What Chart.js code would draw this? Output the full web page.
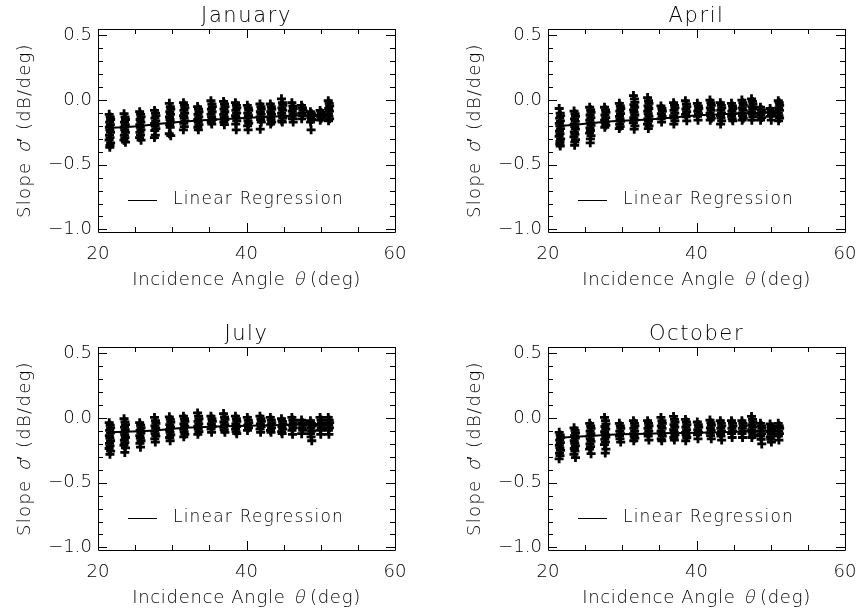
<!DOCTYPE html>
<html>
<head>
<meta charset="utf-8">
<script src="https://cdn.jsdelivr.net/npm/chart.js@4.4.1/dist/chart.umd.min.js"></script>
<style>
  html, body { margin: 0; padding: 0; background: #fff; overflow: hidden; }
  #wrap { position: relative; width: 858px; height: 609px; overflow: hidden; background: #fff; }
  #wrap canvas { position: absolute; }
</style>
</head>
<body>
<div id="wrap">
  <canvas id="p0" width="450" height="318" style="left:0px;top:0px"></canvas>
  <canvas id="p1" width="450" height="318" style="left:450px;top:0px"></canvas>
  <canvas id="p2" width="450" height="318" style="left:0px;top:318px"></canvas>
  <canvas id="p3" width="450" height="318" style="left:450px;top:318px"></canvas>
</div>
<script>
// Incidence angle of each beam node (deg)
const angles = [21.6, 23.6, 25.7, 27.7, 29.7, 31.6, 33.5, 35.3, 37.0, 38.6,
                40.2, 41.9, 43.3, 44.8, 46.2, 47.5, 48.7, 50.0, 51.1];
// spread of the actual incidence angle of samples around each node (deg)
const angleSpread = [-0.09, 0.04, 0.1, -0.03, 0.07, -0.07, 0.0, 0.09, -0.05, 0.02, -0.1, 0.1, 0.01, -0.01, 0.05];

const months = ['January', 'April', 'July', 'October'];

// Slope of sigma0 (dB/deg) samples per node
const janSlope = [
  [-0.11,-0.13,-0.15,-0.17,-0.19,-0.21,-0.23,-0.25,-0.27,-0.29,-0.31,-0.33,-0.35,-0.365],
  [-0.105,-0.13,-0.15,-0.17,-0.19,-0.21,-0.23,-0.25,-0.27,-0.29,-0.31,-0.325],
  [-0.09,-0.11,-0.13,-0.15,-0.17,-0.19,-0.21,-0.23,-0.25,-0.27,-0.29,-0.31],
  [-0.08,-0.10,-0.12,-0.14,-0.16,-0.18,-0.20,-0.22,-0.235,-0.27,-0.29],
  [-0.025,-0.05,-0.07,-0.09,-0.11,-0.13,-0.15,-0.17,-0.19,-0.21,-0.26,-0.275],
  [-0.02,-0.04,-0.06,-0.08,-0.10,-0.12,-0.14,-0.16,-0.18,-0.205,-0.23],
  [-0.05,-0.07,-0.09,-0.11,-0.13,-0.15,-0.17,-0.19,-0.21,-0.23],
  [-0.005,-0.03,-0.05,-0.07,-0.09,-0.11,-0.13,-0.15,-0.17,-0.185],
  [-0.01,-0.03,-0.05,-0.07,-0.09,-0.11,-0.13,-0.15,-0.17,-0.19],
  [-0.02,-0.04,-0.06,-0.08,-0.10,-0.12,-0.14,-0.16,-0.185,-0.23],
  [-0.04,-0.06,-0.08,-0.10,-0.12,-0.14,-0.16,-0.18,-0.20,-0.23],
  [-0.03,-0.05,-0.07,-0.09,-0.11,-0.13,-0.15,-0.17,-0.225],
  [-0.03,-0.05,-0.07,-0.09,-0.11,-0.13,-0.15,-0.17,-0.185],
  [0.01,-0.02,-0.04,-0.06,-0.08,-0.10,-0.12,-0.14,-0.16,-0.17],
  [-0.02,-0.045,-0.065,-0.085,-0.105,-0.125,-0.145,-0.17],
  [-0.04,-0.06,-0.08,-0.10,-0.12,-0.145],
  [-0.09,-0.105,-0.12,-0.135,-0.15,-0.17,-0.23],
  [-0.08,-0.095,-0.11,-0.125,-0.14,-0.155],
  [-0.005,-0.025,-0.045,-0.065,-0.085,-0.105,-0.125,-0.145,-0.16]
];
const aprSlope = [
  [-0.065,-0.10,-0.12,-0.14,-0.16,-0.18,-0.20,-0.22,-0.24,-0.26,-0.28,-0.30,-0.32,-0.34,-0.355],
  [-0.085,-0.105,-0.125,-0.145,-0.165,-0.185,-0.205,-0.225,-0.245,-0.265,-0.285,-0.305,-0.325,-0.35],
  [-0.055,-0.075,-0.095,-0.115,-0.135,-0.155,-0.175,-0.195,-0.215,-0.235,-0.255,-0.275,-0.30,-0.33],
  [-0.055,-0.075,-0.095,-0.115,-0.135,-0.155,-0.175,-0.195,-0.21],
  [-0.025,-0.045,-0.065,-0.085,-0.105,-0.125,-0.145,-0.165,-0.185,-0.205,-0.22],
  [0.035,0.01,-0.015,-0.035,-0.055,-0.075,-0.095,-0.115,-0.135,-0.155,-0.175,-0.20,-0.225],
  [0.02,-0.005,-0.025,-0.045,-0.065,-0.085,-0.105,-0.125,-0.145,-0.165,-0.185,-0.20,-0.22],
  [-0.045,-0.065,-0.085,-0.105,-0.125,-0.145,-0.17],
  [-0.02,-0.04,-0.06,-0.08,-0.10,-0.12,-0.14,-0.16,-0.185],
  [-0.005,-0.03,-0.05,-0.07,-0.09,-0.11,-0.13,-0.16],
  [-0.025,-0.045,-0.065,-0.085,-0.105,-0.125,-0.155],
  [0.0,-0.02,-0.04,-0.06,-0.08,-0.10,-0.12,-0.14,-0.155],
  [-0.02,-0.04,-0.06,-0.08,-0.10,-0.12,-0.14,-0.16,-0.185],
  [-0.025,-0.045,-0.065,-0.085,-0.105,-0.125,-0.145,-0.16],
  [0.0,-0.02,-0.04,-0.06,-0.08,-0.10,-0.12,-0.14,-0.155],
  [0.01,-0.01,-0.03,-0.05,-0.07,-0.09,-0.11,-0.13,-0.155],
  [-0.055,-0.075,-0.095,-0.115,-0.135,-0.155],
  [-0.065,-0.085,-0.105,-0.125,-0.155],
  [-0.005,-0.02,-0.04,-0.06,-0.08,-0.10,-0.12,-0.14,-0.16]
];
const julSlope = [
  [-0.035,-0.055,-0.075,-0.095,-0.115,-0.135,-0.155,-0.175,-0.195,-0.215,-0.235,-0.255,-0.28],
  [-0.005,-0.03,-0.05,-0.07,-0.09,-0.11,-0.13,-0.15,-0.17,-0.19,-0.21,-0.23,-0.265],
  [-0.035,-0.055,-0.075,-0.095,-0.115,-0.135,-0.155,-0.175,-0.195,-0.225],
  [0.005,-0.02,-0.04,-0.06,-0.08,-0.10,-0.12,-0.14,-0.16,-0.185],
  [0.01,-0.01,-0.03,-0.05,-0.07,-0.09,-0.11,-0.13,-0.15,-0.175],
  [0.015,-0.005,-0.025,-0.045,-0.065,-0.085,-0.105,-0.125,-0.145],
  [0.04,0.015,-0.005,-0.025,-0.045,-0.065,-0.085,-0.105,-0.125],
  [0.015,-0.005,-0.025,-0.045,-0.065,-0.085,-0.11],
  [0.035,0.01,-0.01,-0.03,-0.05,-0.07,-0.09,-0.11],
  [0.015,-0.005,-0.025,-0.045,-0.065,-0.085,-0.105,-0.12],
  [0.005,-0.015,-0.035,-0.055,-0.075,-0.095],
  [0.015,-0.005,-0.025,-0.045,-0.065,-0.085,-0.11],
  [0.005,-0.015,-0.035,-0.055,-0.075,-0.095,-0.11],
  [-0.005,-0.025,-0.045,-0.065,-0.085,-0.105,-0.12],
  [0.005,-0.015,-0.035,-0.055,-0.075,-0.095,-0.125],
  [-0.015,-0.035,-0.055,-0.075,-0.095,-0.12],
  [-0.02,-0.04,-0.06,-0.08,-0.10,-0.12,-0.145,-0.175],
  [0.005,-0.015,-0.035,-0.055,-0.075,-0.095,-0.125],
  [0.005,-0.015,-0.035,-0.055,-0.075,-0.095,-0.125]
];
const octSlope = [
  [-0.11,-0.13,-0.15,-0.17,-0.19,-0.21,-0.23,-0.25,-0.27,-0.29,-0.315],
  [-0.075,-0.095,-0.115,-0.135,-0.155,-0.175,-0.195,-0.215,-0.235,-0.255,-0.28,-0.305],
  [-0.04,-0.06,-0.08,-0.10,-0.12,-0.14,-0.16,-0.18,-0.20,-0.22,-0.24,-0.275],
  [0.005,-0.02,-0.045,-0.065,-0.085,-0.105,-0.125,-0.145,-0.165,-0.185,-0.205,-0.24,-0.27],
  [-0.04,-0.06,-0.08,-0.10,-0.12,-0.14,-0.16,-0.185],
  [-0.02,-0.04,-0.06,-0.08,-0.10,-0.12,-0.14,-0.155,-0.175],
  [-0.02,-0.04,-0.06,-0.08,-0.10,-0.12,-0.14,-0.17],
  [0.005,-0.02,-0.04,-0.06,-0.08,-0.10,-0.12,-0.14,-0.16,-0.175],
  [0.013,-0.01,-0.03,-0.05,-0.07,-0.09,-0.11,-0.13,-0.15,-0.17],
  [-0.01,-0.03,-0.05,-0.07,-0.09,-0.11,-0.13,-0.15,-0.175],
  [-0.03,-0.05,-0.07,-0.09,-0.11,-0.13,-0.16],
  [-0.015,-0.035,-0.055,-0.075,-0.095,-0.115,-0.135,-0.16],
  [-0.02,-0.04,-0.06,-0.08,-0.10,-0.12,-0.14,-0.17],
  [-0.02,-0.04,-0.06,-0.08,-0.10,-0.12,-0.15],
  [-0.02,-0.04,-0.06,-0.08,-0.10,-0.12,-0.15],
  [0.013,-0.01,-0.03,-0.05,-0.07,-0.09,-0.11,-0.13,-0.15],
  [-0.04,-0.06,-0.08,-0.10,-0.12,-0.14,-0.165,-0.20],
  [-0.045,-0.065,-0.085,-0.105,-0.125,-0.145,-0.165,-0.185],
  [-0.04,-0.06,-0.08,-0.10,-0.12,-0.14,-0.17]
];

// Regression fit evaluated at each node
const janFit = [-0.213,-0.21,-0.20,-0.187,-0.175,-0.166,-0.158,-0.152,-0.147,-0.142,
                -0.137,-0.132,-0.128,-0.124,-0.121,-0.118,-0.115,-0.113,-0.111];
const aprFit = [-0.20,-0.19,-0.178,-0.168,-0.16,-0.155,-0.15,-0.143,-0.135,-0.125,
                -0.118,-0.113,-0.109,-0.106,-0.103,-0.10,-0.098,-0.096,-0.094];
const julFit = [-0.109,-0.106,-0.102,-0.096,-0.085,-0.075,-0.07,-0.066,-0.063,-0.061,
                -0.06,-0.058,-0.056,-0.054,-0.052,-0.05,-0.048,-0.046,-0.045];
const octFit = [-0.151,-0.145,-0.138,-0.131,-0.125,-0.122,-0.12,-0.117,-0.116,-0.115,
                -0.114,-0.112,-0.11,-0.107,-0.103,-0.099,-0.097,-0.096,-0.096];

const xTicks = [20, 25, 30, 35, 40, 45, 50, 55, 60];
const yTicks = [-1.0, -0.9, -0.8, -0.7, -0.6, -0.5, -0.4, -0.3, -0.2, -0.1,
                0.0, 0.1, 0.2, 0.3, 0.4, 0.5];

const FONT = "'DejaVu Sans', 'Liberation Sans', sans-serif";
const INK = '#000';

function fontStr(size) {
  return '300 ' + size + 'px ' + FONT;
}

// centred text run; italic pieces are slanted with a shear transform
function richText(ctx, parts, x, y, size, spacing) {
  ctx.letterSpacing = spacing + 'px';
  ctx.font = fontStr(size);
  let total = 0;
  const widths = parts.map(([t]) => {
    const w = ctx.measureText(t).width;
    total += w;
    return w;
  });
  let cx = x - total / 2;
  ctx.textAlign = 'left';
  parts.forEach(([t, it], i) => {
    if (it) {
      ctx.save();
      ctx.translate(cx, y);
      ctx.transform(1, 0, -0.22, 1, 0, 0);
      ctx.fillText(t, 1.5, 0);
      ctx.restore();
    } else {
      ctx.fillText(t, cx, y);
    }
    cx += widths[i];
  });
  ctx.letterSpacing = '0px';
}

const yLabel = v => {
  const r = Math.round(v * 2);
  if (Math.abs(v * 2 - r) > 1e-6) return '';
  const s = Math.abs(v).toFixed(1);
  return v < -1e-9 ? '\u2212' + s : s;
};
const xLabel = v => (Math.round(v) % 20 === 0 ? String(v) : '');

// Frame with inward ticks on all four sides, panel title, axis titles and key
const panelFrame = {
  id: 'panelFrame',
  afterDraw(chart, args, opts) {
    const ctx = chart.ctx;
    const a = chart.chartArea;
    const xs = chart.scales.x, ys = chart.scales.y;
    ctx.save();
    ctx.strokeStyle = '#000';
    ctx.lineWidth = 1;
    ctx.beginPath();
    ctx.rect(Math.round(a.left) + 0.5, Math.round(a.top) + 0.5,
             Math.round(a.right - a.left), Math.round(a.bottom - a.top));
    ctx.stroke();

    ctx.beginPath();
    ys.ticks.forEach(t => {
      const py = Math.round(ys.getPixelForValue(t.value)) + 0.5;
      const len = yLabel(t.value) ? 9 : 5;
      ctx.moveTo(a.left, py); ctx.lineTo(a.left + len, py);
      ctx.moveTo(a.right, py); ctx.lineTo(a.right - len, py);
    });
    xs.ticks.forEach(t => {
      const px = Math.round(xs.getPixelForValue(t.value)) + 0.5;
      const len = xLabel(t.value) ? 9 : 5;
      ctx.moveTo(px, a.bottom); ctx.lineTo(px, a.bottom - len);
      ctx.moveTo(px, a.top); ctx.lineTo(px, a.top + len);
    });
    ctx.stroke();

    const cx = (a.left + a.right) / 2;
    const cy = (a.top + a.bottom) / 2;
    ctx.fillStyle = INK;
    ctx.textBaseline = 'alphabetic';

    // panel title
    richText(ctx, [[opts.title, false]], cx, a.top - 7.5, 21, 1.6);

    // x axis title
    richText(ctx, [['Incidence Angle ', false], ['\u03b8', true], [' (deg)', false]],
             cx, a.bottom + 53, 18, 0.7);

    // y axis title
    ctx.save();
    ctx.translate(29.5, cy);
    ctx.rotate(-Math.PI / 2);
    richText(ctx, [['Slope ', false], ['\u03c3', true], ['\u2032 (dB/deg)', false]],
             0, 0, 18, 1.3);
    ctx.restore();

    // key
    const ky = a.top + 171;
    ctx.beginPath();
    ctx.moveTo(a.left + 30, Math.round(ky) + 0.5);
    ctx.lineTo(a.left + 59, Math.round(ky) + 0.5);
    ctx.stroke();
    ctx.textBaseline = 'middle';
    ctx.letterSpacing = '1.2px';
    ctx.font = fontStr(17);
    ctx.textAlign = 'left';
    ctx.fillText('Linear Regression', a.left + 75, ky);
    ctx.letterSpacing = '0px';
    ctx.restore();
  }
};

function makePanel(id, title, slopes, fit) {
  const samples = [];
  slopes.forEach((col, c) => {
    col.forEach((v, i) => {
      samples.push({ x: angles[c] + angleSpread[i % angleSpread.length], y: v });
    });
  });
  const fitLine = angles.map((ang, c) => ({ x: ang, y: fit[c] }));
  const tickFont = { family: FONT, size: 18, weight: '300' };

  return new Chart(document.getElementById(id), {
    type: 'scatter',
    data: {
      datasets: [
        {
          label: 'Linear Regression',
          data: fitLine,
          showLine: true,
          borderColor: '#000',
          borderWidth: 2,
          pointRadius: 0,
          order: 0
        },
        {
          label: 'Slope',
          data: samples,
          pointStyle: 'cross',
          pointRadius: 4.5,
          pointBorderWidth: 2.8,
          pointBorderColor: '#000',
          pointBackgroundColor: '#000',
          order: 1
        }
      ]
    },
    options: {
      responsive: false,
      animation: false,
      events: [],
      layout: { padding: { left: 0, top: 29, right: 55, bottom: 0 } },
      plugins: {
        legend: { display: false },
        tooltip: { enabled: false },
        title: { display: false },
        panelFrame: { title }
      },
      scales: {
        x: {
          type: 'linear',
          min: 20, max: 60,
          afterBuildTicks: s => { s.ticks = xTicks.map(v => ({ value: v })); },
          afterFit: s => { s.height = 86; },
          grid: { display: false, drawTicks: false },
          border: { display: false },
          ticks: { autoSkip: false, maxRotation: 0, padding: 12, color: INK,
                   font: tickFont, callback: xLabel }
        },
        y: {
          type: 'linear',
          min: -1.02, max: 0.55,
          afterBuildTicks: s => { s.ticks = yTicks.map(v => ({ value: v })); },
          afterFit: s => { s.width = 98; },
          grid: { display: false, drawTicks: false },
          border: { display: false },
          ticks: { autoSkip: false, padding: 6, color: INK,
                   font: tickFont, callback: yLabel }
        }
      }
    },
    plugins: [panelFrame]
  });
}

makePanel('p0', months[0], janSlope, janFit);
makePanel('p1', months[1], aprSlope, aprFit);
makePanel('p2', months[2], julSlope, julFit);
makePanel('p3', months[3], octSlope, octFit);
</script>
</body>
</html>
